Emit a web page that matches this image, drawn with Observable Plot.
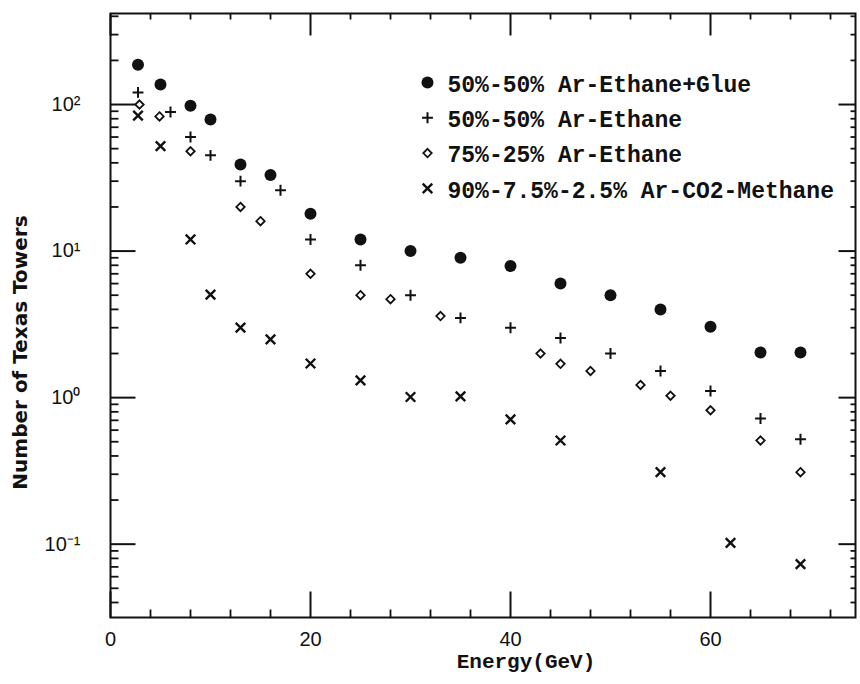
<!DOCTYPE html>
<html>
<head>
<meta charset="utf-8">
<script src="https://cdn.jsdelivr.net/npm/d3@7"></script>
<script src="https://cdn.jsdelivr.net/npm/@observablehq/plot@0.6"></script>
<style>
  html, body { margin: 0; padding: 0; background: #fff; }
  #chart svg { display: block; }
</style>
</head>
<body>
<div id="chart"></div>
<script>
// ---- Data ----
const seriesNames = [
  "50%-50% Ar-Ethane+Glue",
  "50%-50% Ar-Ethane",
  "75%-25% Ar-Ethane",
  "90%-7.5%-2.5% Ar-CO2-Methane"
];

const glueEnergy  = [2.75, 5, 8, 10, 13, 16, 20, 25, 30, 35, 40, 45, 50, 55, 60, 65, 69];
const glueTowers  = [187, 137, 98, 79, 39, 33, 18, 12, 10, 9, 7.9, 6, 5, 4, 3.05, 2.03, 2.03];

const ae50Energy  = [2.75, 6, 8, 10, 13, 17, 20, 25, 30, 35, 40, 45, 50, 55, 60, 65, 69];
const ae50Towers  = [121, 89, 60, 45, 30, 26, 12, 8, 5, 3.5, 3, 2.55, 2, 1.52, 1.11, 0.72, 0.52];

const ae75Energy  = [2.9, 4.9, 8, 13, 15, 20, 25, 28, 33, 43, 45, 48, 53, 56, 60, 65, 69];
const ae75Towers  = [100, 83, 48, 20, 16, 7, 5, 4.7, 3.6, 2, 1.7, 1.52, 1.22, 1.03, 0.82, 0.51, 0.31];

const co2Energy   = [2.75, 5, 8, 10, 13, 16, 20, 25, 30, 35, 40, 45, 55, 62, 69];
const co2Towers   = [84, 52, 12, 5.05, 3, 2.5, 1.71, 1.31, 1.01, 1.02, 0.71, 0.51, 0.31, 0.102, 0.073];

const xMajorTicks = [0, 20, 40, 60];
const xTickLabels = ["0", "20", "40", "60"];
const yMajorTicks = [0.1, 1, 10, 100];
const yTickLabels = ["10\u207B\u00B9", "10\u2070", "10\u00B9", "10\u00B2"];
const xTitle = "Energy(GeV)";
const yTitle = "Number of Texas Towers";

// ---- Layout ----
const W = 860, H = 684;
const mL = 110, mR = 5, mT = 13, mB = 67;
const ink = "#111";

const xDomain = [0, 74.5];
const yDomain = [0.0316, 418];

const xMinorTicks = d3.range(4, 75, 4).filter(d => d % 20 !== 0);
const yMinorTicks = [];
for (let e = -2; e <= 2; e++) for (let k = 2; k <= 9; k++) {
  const v = k * Math.pow(10, e);
  if (v > yDomain[0] && v < yDomain[1]) yMinorTicks.push(v);
}

const rows = (E, N) => E.map((e, i) => ({energy: e, towers: N[i]}));
const series = [
  {data: rows(glueEnergy, glueTowers), sym: {symbol: "circle", r: 6, fill: ink}},
  {data: rows(ae50Energy, ae50Towers), sym: {symbol: "plus", r: 3.6, stroke: ink, strokeWidth: 2}},
  {data: rows(ae75Energy, ae75Towers), sym: {symbol: "diamond2", r: 3.8, stroke: ink, strokeWidth: 1.8}},
  {data: rows(co2Energy, co2Towers), sym: {symbol: "times", r: 4.4, stroke: ink, strokeWidth: 2.4}}
];

// a plain straight stroke used for the inward tick marks
const tickShape = {draw(context, l) { context.moveTo(0, 0); context.lineTo(0, -l); }};
const tick = (values, ch, anchor, rotate, length, sw) =>
  Plot.vector(values, {[ch]: d => d, frameAnchor: anchor, rotate, length, anchor: "start",
    shape: tickShape, stroke: ink, strokeWidth: sw, strokeLinecap: "butt"});

const legendTop = 69, legendStep = 35.3;

const marks = [
  Plot.frame({stroke: ink, strokeWidth: 2}),
  // bottom / top ticks
  tick(xMajorTicks, "x", "bottom", 0, 26, 2),
  tick(xMinorTicks, "x", "bottom", 0, 8, 1.8),
  tick(xMajorTicks, "x", "top", 180, 22, 2),
  tick(xMinorTicks, "x", "top", 180, 6, 1.8),
  // left / right ticks
  tick(yMajorTicks, "y", "left", 90, 25, 2),
  tick(yMinorTicks, "y", "left", 90, 8, 1.8),
  tick(yMajorTicks, "y", "right", -90, 17, 2),
  tick(yMinorTicks, "y", "right", -90, 5, 1.8),
  // axis titles
  Plot.text([xTitle], {frameAnchor: "bottom", dx: 43, dy: 50, fontFamily: "Liberation Mono", fontWeight: "bold",
    fontSize: 21, fill: ink}),
  Plot.text([yTitle], {frameAnchor: "left", rotate: -90, textAnchor: "middle", dx: -90, dy: 37,
    fontFamily: "DejaVu Sans", fontWeight: "bold", fontSize: 20, fill: ink}),
  // data
  ...series.map(s => Plot.dot(s.data, {x: "energy", y: "towers", ...s.sym})),
  // legend
  ...series.map((s, i) => Plot.dot([seriesNames[i]], {frameAnchor: "top-left", dx: 317, dy: legendTop + i * legendStep, ...s.sym})),
  ...seriesNames.map((name, i) => Plot.text([name], {frameAnchor: "top-left", dx: 337, dy: legendTop + 2 + i * legendStep,
    textAnchor: "start", lineAnchor: "middle", fontFamily: "Liberation Mono", fontWeight: "bold", fontSize: 23, fill: ink}))
];

const chart = Plot.plot({
  width: W, height: H,
  marginLeft: mL, marginRight: mR, marginTop: mT, marginBottom: mB,
  style: {fontFamily: "Liberation Sans", fontSize: "20px", background: "#fff", color: ink},
  x: {domain: xDomain, ticks: xMajorTicks, tickSize: 0, tickPadding: 14, label: null,
      tickFormat: d => xTickLabels[xMajorTicks.indexOf(d)]},
  y: {type: "log", domain: yDomain, ticks: yMajorTicks, tickSize: 0, tickPadding: 30, label: null,
      tickFormat: d => yTickLabels[yMajorTicks.indexOf(d)]},
  marks
});

document.getElementById("chart").append(chart);
</script>
</body>
</html>
